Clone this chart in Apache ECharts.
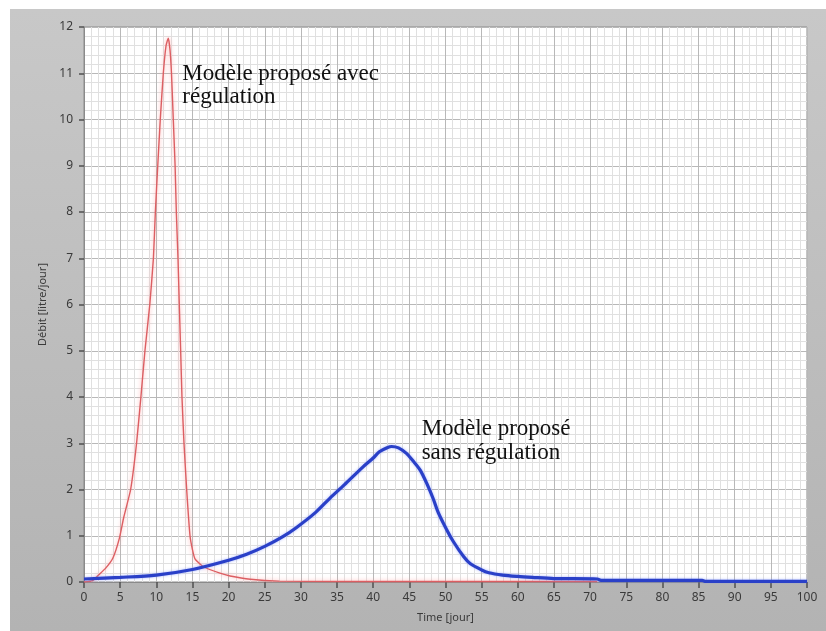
<!DOCTYPE html>
<html><head><meta charset="utf-8">
<script src="https://cdn.jsdelivr.net/npm/echarts@6/dist/echarts.min.js"></script>
<style>html,body{margin:0;padding:0;background:#fff;}#c{width:826px;height:631px;}</style>
</head><body><div id="c"></div>
<script>
// Time [jour] for each series point
var redTime = [0,1.2,2,3,4,4.9,5.5,6.45,7.27,7.87,8.43,9.1,9.6,9.87,10.2,10.55,10.97,11.35,11.66,11.9,12.1,12.35,12.6,12.77,13.0,13.18,13.37,13.55,13.83,14.2,14.66,15.0,15.35,16.5,18.8,20.2,23,27,35,45,55,65,71];
var redValue = [0,0.03,0.15,0.3,0.52,0.95,1.4,2,3,4,5,6,7,8,9,10,11,11.6,11.76,11.5,11,10,9,8,7,6,5,4,3,2,1,0.7,0.5,0.33,0.19,0.13,0.06,0.02,0.012,0.01,0.01,0.01,0.01];
var blueTime = [0,5,10,15,20,22.5,25,27.5,29.4,32,34,36,38.6,40,40.9,42,42.55,43.5,44.6,45.5,46.5,47.5,48.3,49,50.2,51.1,52.5,53.4,55,56,57.9,60,62,65,71,71.5,85.5,86,100];
var blueValue = [0.065,0.1,0.15,0.27,0.47,0.6,0.77,0.98,1.18,1.5,1.81,2.1,2.49,2.68,2.82,2.91,2.93,2.9,2.78,2.62,2.42,2.1,1.8,1.5,1.12,0.87,0.55,0.4,0.26,0.2,0.15,0.12,0.1,0.075,0.065,0.035,0.035,0.012,0.012];
var annotations = [
  {t: 13.6, v: 10.98, text: 'Modèle proposé avec'},
  {t: 13.6, v: 10.48, text: 'régulation'},
  {t: 46.7, v: 3.3, text: 'Modèle proposé'},
  {t: 46.7, v: 2.78, text: 'sans régulation'}
];
var xName = 'Time [jour]';
var yName = 'Débit [litre/jour]';

function zip(a, b) { return a.map(function (x, i) { return [x, b[i]]; }); }

var chart = echarts.init(document.getElementById('c'));
var labelFont = {fontFamily: 'Noto Sans', fontSize: 12, color: '#3a3a3a'};
chart.setOption({
  animation: false,
  backgroundColor: '#ffffff',
  grid: {left: 84, right: 19, top: 27, bottom: 49, show: true, backgroundColor: '#ffffff', borderColor: '#8a8a8a', borderWidth: 1, z: 0},
  xAxis: {
    type: 'value', min: 0, max: 100, interval: 5,
    name: xName, nameLocation: 'middle', nameGap: 30,
    nameTextStyle: {fontFamily: 'Noto Sans', fontSize: 11, color: '#3a3a3a'},
    axisLine: {show: true, onZero: false, lineStyle: {color: '#8a8a8a'}},
    axisTick: {show: true, length: 6, lineStyle: {color: '#505050', width: 1.5}},
    axisLabel: Object.assign({margin: 10}, labelFont),
    splitLine: {show: true, lineStyle: {color: '#b8b8b8', width: 1}},
    minorTick: {show: true, splitNumber: 5, length: 0},
    minorSplitLine: {show: true, lineStyle: {color: '#e0e0e0', width: 1}}
  },
  yAxis: {
    type: 'value', min: 0, max: 12, interval: 1,
    name: yName, nameLocation: 'middle', nameGap: 34, nameRotate: 90,
    nameTextStyle: {fontFamily: 'Noto Sans', fontSize: 11, color: '#3a3a3a'},
    axisLine: {show: true, lineStyle: {color: '#8a8a8a'}},
    axisTick: {show: true, length: 5, lineStyle: {color: '#505050', width: 1.5}},
    axisLabel: Object.assign({margin: 11}, labelFont),
    splitLine: {show: true, lineStyle: {color: '#b8b8b8', width: 1}},
    minorTick: {show: true, splitNumber: 5, length: 0},
    minorSplitLine: {show: true, lineStyle: {color: '#e0e0e0', width: 1}}
  },
  series: [
    {type: 'line', data: zip(redTime, redValue), showSymbol: false, z: 3, smooth: 0.15,
     lineStyle: {color: '#dc5e62', width: 1.4, shadowColor: 'rgba(255,150,150,0.8)', shadowBlur: 4}},
    {type: 'line', data: zip(blueTime, blueValue), showSymbol: false, z: 4, smooth: 0.3,
     lineStyle: {color: '#2a40c8', width: 3.2, shadowColor: 'rgba(120,140,255,0.6)', shadowBlur: 3}}
  ]
});

var texts = annotations.map(function (a) {
  var p = chart.convertToPixel({gridIndex: 0}, [a.t, a.v]);
  return {type: 'text', x: p[0], y: p[1], z: 20, silent: true,
    style: {text: a.text, fill: '#111111', font: '23px "Liberation Serif"', align: 'left', verticalAlign: 'middle'}};
});
chart.setOption({graphic: [{
    type: 'rect', z: -10, silent: true,
    shape: {x: 10, y: 9, width: 816, height: 622},
    style: {fill: new echarts.graphic.LinearGradient(0, 0, 0, 1, [{offset: 0, color: '#c8c8c8'}, {offset: 1, color: '#b3b3b3'}])}
  }].concat(texts)});
</script></body></html>
